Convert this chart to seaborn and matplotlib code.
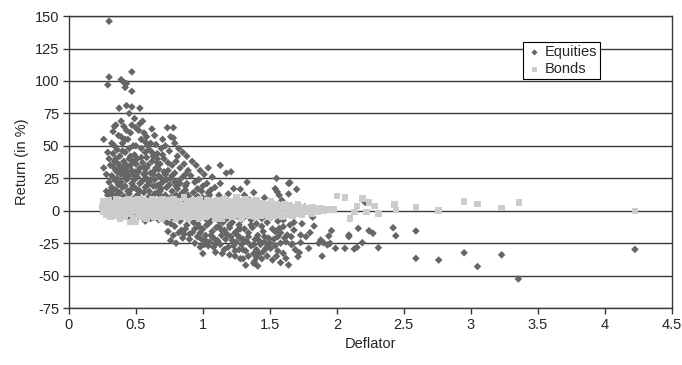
import matplotlib
matplotlib.use("Agg")
import matplotlib.pyplot as plt
import pandas as pd
import seaborn as sns

# (deflator, return in %)
equities = [
    # 0.25 - 0.35
    (0.30, 146), (0.30, 103), (0.29, 97), (0.26, 55), (0.26, 33), (0.31, 35), (0.33, 34),
    (0.33, 61), (0.34, 65), (0.35, 66), (0.28, 28), (0.30, 22), (0.32, 18), (0.29, 12),
    (0.31, 8), (0.27, 4), (0.33, 44), (0.34, 50), (0.30, 40), (0.32, 27), (0.35, 31),
    (0.28, 15), (0.34, 10), (0.31, -3), (0.27, -2), (0.35, 23), (0.33, 25), (0.29, 45),
    (0.32, 52), (0.35, 40), (0.31, 15), (0.33, 12), (0.35, 16), (0.34, 38),
    # 0.35 - 0.5
    (0.39, 101), (0.41, 99), (0.43, 98), (0.42, 95), (0.47, 107), (0.47, 92), (0.43, 81),
    (0.47, 80), (0.375, 79), (0.45, 75), (0.49, 71), (0.39, 69), (0.41, 65), (0.46, 60),
    (0.50, 64), (0.37, 58), (0.40, 52), (0.44, 55), (0.48, 50), (0.36, 47), (0.38, 42),
    (0.42, 45), (0.45, 40), (0.49, 43), (0.37, 36), (0.40, 33), (0.43, 30), (0.46, 35),
    (0.48, 28), (0.36, 25), (0.39, 22), (0.42, 19), (0.44, 25), (0.47, 21), (0.50, 17),
    (0.38, 14), (0.41, 11), (0.45, 13), (0.48, 9), (0.37, 6), (0.40, 3), (0.43, -2),
    (0.46, 5), (0.49, -4), (0.38, -6), (0.44, -5), (0.41, 38), (0.45, 48), (0.39, 57),
    (0.43, 62), (0.47, 66), (0.36, 30), (0.44, 34), (0.48, 38), (0.42, 27), (0.46, 16),
    (0.50, 30), (0.40, 46), (0.37, 20), (0.39, 28), (0.41, 31), (0.43, 24), (0.45, 27),
    (0.47, 31), (0.49, 24), (0.36, 12), (0.40, 18), (0.44, 15), (0.48, 19), (0.42, 36),
    (0.46, 42), (0.50, 36), (0.38, 33), (0.42, 55), (0.50, 50),
    # 0.5 - 0.7
    (0.53, 79), (0.53, 67), (0.55, 69), (0.56, 60), (0.64, 58), (0.70, 55), (0.52, 62),
    (0.58, 57), (0.61, 52), (0.54, 48), (0.57, 45), (0.60, 47), (0.63, 42), (0.66, 44),
    (0.69, 48), (0.51, 40), (0.55, 37), (0.59, 35), (0.62, 38), (0.65, 33), (0.68, 36),
    (0.52, 30), (0.56, 28), (0.58, 25), (0.61, 29), (0.64, 24), (0.67, 27), (0.70, 22),
    (0.53, 21), (0.57, 18), (0.60, 15), (0.63, 19), (0.66, 14), (0.69, 17), (0.51, 12),
    (0.54, 9), (0.58, 7), (0.62, 10), (0.65, 5), (0.68, 8), (0.55, 3), (0.59, -3),
    (0.63, -5), (0.67, -7), (0.52, -4), (0.57, -8), (0.61, -6), (0.69, -3), (0.54, 55),
    (0.59, 50), (0.62, 63), (0.66, 40), (0.56, 33), (0.60, 22), (0.64, 31), (0.68, 12),
    (0.53, 15), (0.65, 51), (0.58, 41), (0.67, 20), (0.51, 26), (0.53, 33), (0.55, 23),
    (0.57, 29), (0.59, 20), (0.61, 24), (0.63, 28), (0.65, 19), (0.67, 32), (0.69, 25),
    (0.52, 16), (0.56, 14), (0.60, 11), (0.64, 13), (0.68, 15), (0.54, 41), (0.58, 33),
    (0.62, 45), (0.66, 37), (0.70, 43), (0.57, 53),
    # 0.7 - 0.9
    (0.735, 64), (0.78, 64), (0.76, 57), (0.78, 56), (0.72, 50), (0.75, 46), (0.79, 52),
    (0.82, 48), (0.85, 45), (0.88, 42), (0.71, 40), (0.74, 37), (0.77, 35), (0.80, 38),
    (0.83, 33), (0.86, 36), (0.89, 31), (0.72, 28), (0.76, 25), (0.79, 29), (0.82, 23),
    (0.85, 26), (0.88, 21), (0.73, 18), (0.77, 15), (0.80, 19), (0.84, 13), (0.87, 16),
    (0.90, 10), (0.71, 8), (0.75, 5), (0.78, 9), (0.81, 3), (0.86, 6), (0.89, 2),
    (0.72, -6), (0.76, -10), (0.79, -12), (0.83, -8), (0.87, -14), (0.74, -16),
    (0.78, -19), (0.82, -17), (0.85, -21), (0.88, -11), (0.76, -23), (0.80, -25),
    (0.84, -15), (0.90, -18), (0.73, -9), (0.81, 42), (0.74, 31), (0.87, 28), (0.83, 11),
    (0.77, -5), (0.71, 30), (0.73, 24), (0.75, 20), (0.77, 27), (0.79, 22), (0.81, 17),
    (0.83, 21), (0.85, 14), (0.87, 19), (0.89, 12), (0.72, 12), (0.76, 10), (0.80, 12),
    (0.84, 8), (0.88, 9), (0.86, -18),
    # 0.9 - 1.1
    (0.92, 38), (0.95, 35), (0.98, 31), (1.01, 28), (1.04, 33), (1.07, 26), (0.91, 27),
    (0.94, 22), (0.97, 24), (1.00, 19), (1.03, 21), (1.06, 16), (1.09, 18), (0.93, 14),
    (0.96, 11), (0.99, 15), (1.02, 9), (1.05, 12), (1.08, 7), (0.91, 5), (0.95, 3),
    (0.99, -4), (1.02, -6), (1.06, -8), (0.93, -9), (0.97, -12), (1.00, -14), (1.03, -11),
    (1.07, -16), (1.10, -13), (0.92, -17), (0.96, -20), (0.99, -22), (1.02, -19),
    (1.05, -24), (1.08, -21), (0.94, -25), (1.00, -33), (1.04, -27), (1.095, -32),
    (1.01, -26), (0.98, -28), (1.09, -5), (0.95, -7), (1.06, 2), (0.92, 8), (0.96, 17),
    (1.00, 10), (1.04, 14), (0.90, -22), (0.94, -14), (0.98, -17), (1.02, -23),
    (1.06, -19), (1.10, -25), (1.04, -10), (1.08, -28), (0.96, -10),
    # 1.1 - 1.3
    (1.13, 35), (1.13, 21), (1.175, 29), (1.21, 30), (1.23, 17), (1.28, 16.5), (1.12, 12),
    (1.16, 9), (1.19, 13), (1.25, 8), (1.11, 4), (1.15, -3), (1.18, -6), (1.22, -9),
    (1.26, -4), (1.29, -7), (1.12, -12), (1.16, -15), (1.20, -13), (1.24, -17),
    (1.27, -11), (1.14, -19), (1.17, -22), (1.21, -20), (1.25, -24), (1.28, -21),
    (1.13, -26), (1.19, -28), (1.23, -27), (1.27, -30), (1.145, -33), (1.20, -34),
    (1.28, -37), (1.24, -31), (1.11, -23), (1.22, 1), (1.18, 5), (1.26, -15), (1.15, -9),
    (1.29, -26), (1.14, -15), (1.18, -18), (1.22, -23), (1.26, -19), (1.12, -8),
    (1.20, -11), (1.28, -14), (1.16, -30), (1.24, -35),
    # 1.3 - 1.5
    (1.33, 22), (1.31, 12), (1.35, 8), (1.38, 14), (1.42, 5), (1.46, 10), (1.49, 3),
    (1.32, -4), (1.36, -7), (1.40, -10), (1.44, -6), (1.48, -9), (1.31, -14), (1.34, -17),
    (1.37, -13), (1.41, -19), (1.45, -16), (1.49, -21), (1.33, -24), (1.36, -27),
    (1.39, -22), (1.43, -26), (1.47, -29), (1.32, -42), (1.38, -40.5), (1.386, -39),
    (1.41, -42.6), (1.34, -35), (1.42, -33), (1.45, -31.6), (1.48, -35), (1.30, -30),
    (1.40, -30), (1.44, -37), (1.46, -24), (1.30, -22), (1.34, -20), (1.38, -26),
    (1.42, -23), (1.46, -20), (1.36, -11), (1.44, -12), (1.32, -31), (1.40, -36),
    (1.48, -28), (1.38, -33), (1.30, -37),
    # 1.5 - 1.7
    (1.55, 25), (1.65, 21.6), (1.54, 17), (1.555, 14.6), (1.57, 12), (1.64, 12.9),
    (1.70, 16.5), (1.64, 21), (1.52, 6), (1.59, 8), (1.62, 3), (1.51, -5), (1.56, -8),
    (1.60, -7.2), (1.68, -9), (1.505, -29), (1.54, -16), (1.57, -13.6), (1.60, -12.3),
    (1.63, -18.7), (1.65, -11), (1.68, -14.9), (1.53, -22), (1.58, -25), (1.61, -21),
    (1.66, -26), (1.60, -32.8), (1.62, -36.7), (1.64, -41.8), (1.67, -25.7), (1.55, -35),
    (1.58, -40), (1.52, -38), (1.69, -30), (1.56, -20), (1.50, -25), (1.54, -27),
    (1.58, -17), (1.62, -24), (1.66, -20), (1.52, -14), (1.56, -31),
    # 1.7 and up
    (1.71, -35.4), (1.72, -32.3), (1.73, -24.6), (1.73, -18.7), (1.77, -20), (1.80, -16.9),
    (1.83, -11.8), (1.865, -25.1), (1.79, -29), (1.88, -22.6), (1.90, -24.6), (1.93, -26.4),
    (1.95, -25.1), (1.89, -35), (1.94, -19.5), (1.96, -15.4), (1.99, -29), (2.06, -29),
    (2.09, -18.7), (2.09, -20), (2.13, -29.5), (2.15, -28.2), (2.16, -13.6), (2.19, -24.6),
    (2.21, 6.5), (2.24, -15.4), (2.27, -17.4), (2.31, -28.5), (2.42, -13.1), (2.44, -19.3),
    (2.59, -15.6), (2.59, -36.7), (2.76, -38), (2.95, -32.4), (3.05, -43), (3.23, -34),
    (3.355, -52.6), (4.225, -29.8), (1.74, -10), (1.76, 3), (1.82, -5),
]

bonds = [
    (0.25, 3), (0.26, 7), (0.26, -1), (0.27, 1), (0.28, 5), (0.28, -3), (0.29, 2), (0.30, 8),
    (0.30, -2), (0.31, 4), (0.31, -5), (0.32, 1), (0.33, 6), (0.33, -3), (0.34, 3),
    (0.35, -1), (0.35, 9), (0.36, 5), (0.36, -4), (0.37, 2), (0.38, 7), (0.38, -6),
    (0.39, 0), (0.40, 4), (0.40, -3),
    (0.41, 8), (0.42, 1), (0.42, -5), (0.43, 5), (0.44, -2), (0.44, 9), (0.45, 3),
    (0.46, -8.5), (0.46, -1), (0.47, 6), (0.48, 2), (0.48, -6), (0.49, 8), (0.50, -8.5),
    (0.50, 0), (0.51, 4), (0.52, -3), (0.52, 9), (0.53, 2), (0.54, -5), (0.54, 6),
    (0.55, 0), (0.56, 8), (0.57, -2), (0.57, 4), (0.58, -6), (0.59, 1), (0.60, 7),
    (0.60, -4),
    (0.61, 3), (0.62, -1), (0.62, 9), (0.63, 5), (0.64, -5), (0.65, 2), (0.66, 7),
    (0.66, -3), (0.67, 0), (0.68, 5), (0.69, -6), (0.70, 3), (0.70, 9), (0.71, -2),
    (0.72, 6), (0.73, 0), (0.73, -5), (0.74, 8), (0.75, 2), (0.76, -4), (0.77, 5),
    (0.77, -1), (0.78, 9), (0.79, 1), (0.80, -6), (0.80, 6),
    (0.81, 3), (0.82, -2), (0.83, 7), (0.84, 0), (0.84, -5), (0.85, 4), (0.86, 10),
    (0.87, -3), (0.88, 2), (0.88, 7), (0.89, -6), (0.90, 0), (0.91, 5), (0.92, -2),
    (0.93, 8), (0.93, -5), (0.94, 2), (0.95, 6), (0.96, -1), (0.97, 4), (0.97, -6),
    (0.98, 9), (0.99, 1), (1.00, -3), (1.00, 6),
    (1.01, 3), (1.02, -5), (1.03, 8), (1.04, 0), (1.05, 5), (1.05, -3), (1.06, 2),
    (1.07, 7), (1.08, -2), (1.09, 4), (1.09, -6), (1.10, 1), (1.11, 8), (1.12, -3),
    (1.13, 5), (1.13, 0), (1.14, -6), (1.15, 3), (1.16, 9), (1.17, -1), (1.18, 5),
    (1.18, -4), (1.19, 1), (1.20, 7), (1.20, -2),
    (1.21, 3), (1.22, -5), (1.23, 6), (1.24, 0), (1.25, 10), (1.25, -3), (1.26, 4),
    (1.27, -1), (1.28, 7), (1.29, -6), (1.30, 2), (1.31, 5), (1.31, -3), (1.32, 9),
    (1.33, 0), (1.34, 4), (1.35, -4), (1.36, 7), (1.36, 1), (1.37, -2), (1.38, 5),
    (1.39, -5), (1.40, 2), (1.40, 8),
    (1.41, -1), (1.42, 4), (1.43, -4), (1.44, 6), (1.45, 1), (1.46, -3), (1.47, 5),
    (1.48, 0), (1.49, -5), (1.50, 3), (1.51, 7), (1.52, -2), (1.53, 2), (1.54, -4),
    (1.55, 5), (1.56, 0), (1.57, -2), (1.58, 4), (1.59, -5), (1.60, 1),
    (1.61, 5), (1.62, -1), (1.63, 2), (1.64, -3), (1.65, 4), (1.66, 0), (1.67, -4),
    (1.68, 3), (1.69, -1), (1.70, 2), (1.71, 5), (1.72, -2), (1.73, 1), (1.74, -3),
    (1.75, 3), (1.76, -1), (1.78, 2), (1.79, 0), (1.81, -2), (1.82, 3), (1.84, 1),
    (1.86, -1), (1.88, 2), (1.90, 0),
    (2.00, 11.3), (2.06, 10), (2.19, 9.6), (2.24, 6.2), (2.28, 3.6), (2.31, -2),
    (2.43, 4.9), (2.44, 0.5), (2.59, 2.6), (2.76, 0), (2.95, 7.2), (3.05, 5.2),
    (3.23, 2.1), (3.36, 6.2), (4.225, -0.2), (2.22, -0.8), (2.10, -5.9), (2.13, -0.8),
    (2.15, 3.6), (1.93, 1), (1.98, 1),
]

eq = pd.DataFrame(equities, columns=["Deflator", "Return"])
bd = pd.DataFrame(bonds, columns=["Deflator", "Return"])

sns.set_style("white")
plt.rcParams["font.family"] = ["Liberation Sans", "DejaVu Sans"]
plt.rcParams["axes.unicode_minus"] = False

fig = plt.figure(figsize=(6.82, 3.65), dpi=100)
ax = fig.add_axes([0.101, 0.156, 0.884, 0.80])

sns.scatterplot(data=eq, x="Deflator", y="Return", marker="D", s=15, color="#666666",
                edgecolor="none", label="Equities", ax=ax, zorder=3)
sns.scatterplot(data=bd, x="Deflator", y="Return", marker="s", s=22, color="#cccccc",
                edgecolor="none", label="Bonds", ax=ax, zorder=4)

ax.set_xlim(0, 4.5)
ax.set_ylim(-75, 150)
ax.set_xticks([0, 0.5, 1, 1.5, 2, 2.5, 3, 3.5, 4, 4.5])
ax.set_xticklabels(["0", "0.5", "1", "1.5", "2", "2.5", "3", "3.5", "4", "4.5"])
ax.set_yticks(range(-75, 151, 25))
ax.yaxis.grid(True, color="#3a3a3a", lw=1)
ax.xaxis.grid(False)
for sp in ax.spines.values():
    sp.set_color("#3a3a3a")
    sp.set_linewidth(1)
ax.tick_params(axis="both", direction="out", length=4, width=1, color="#3a3a3a",
               labelsize=10.5, pad=3, left=True, bottom=True)

ax.set_xlabel("Deflator", fontsize=10.5)
ax.set_ylabel("Return (in %)", fontsize=10.5)

leg = ax.legend(loc="upper left", bbox_to_anchor=(0.753, 0.91), frameon=True,
                fancybox=False, edgecolor="black", fontsize=10.5, borderpad=0.2,
                handletextpad=0.1, handlelength=1.2, labelspacing=0.2,
                borderaxespad=0, markerscale=0.8)
leg.get_frame().set_linewidth(0.8)
leg.get_frame().set_alpha(1)

fig.savefig("out.png", dpi=100)
